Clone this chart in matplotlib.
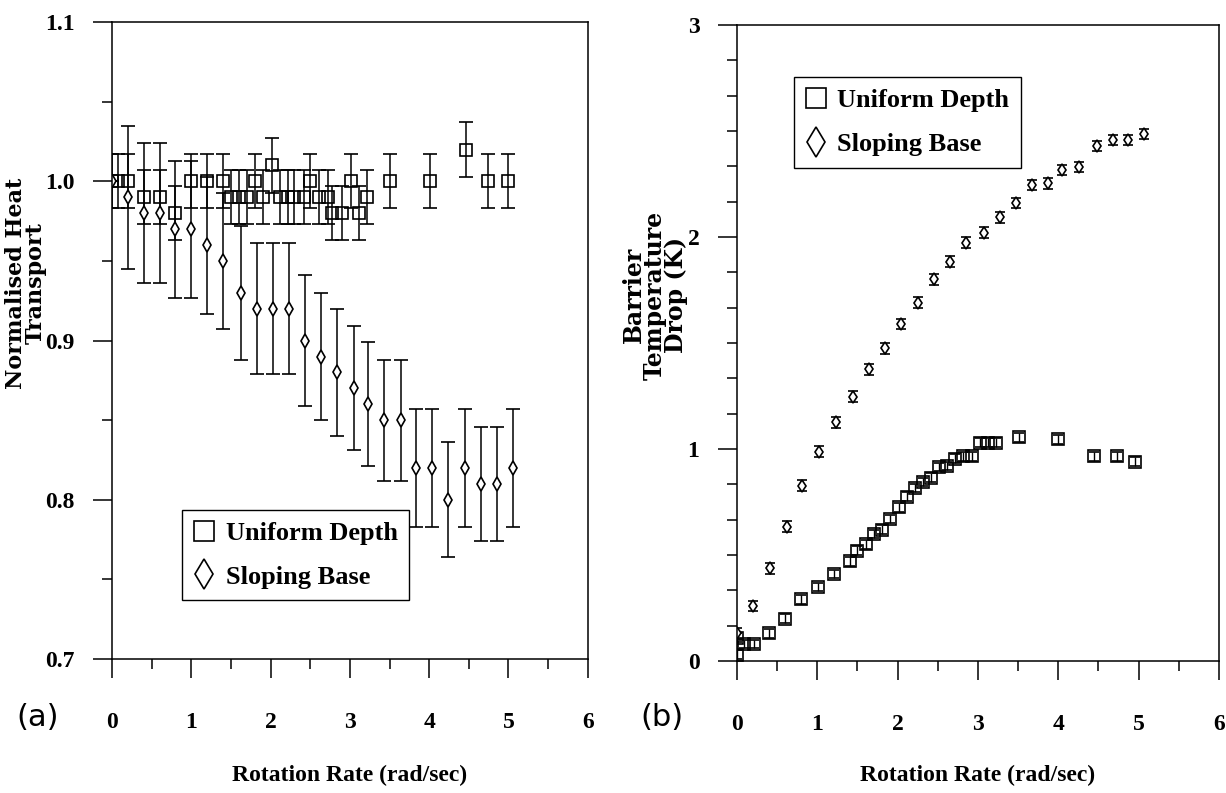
import matplotlib.pyplot as plt
from matplotlib.ticker import MultipleLocator, FormatStrFormatter
from matplotlib.lines import Line2D

# (a) normalised heat transport
ua_x = [0, 0.08, 0.2, 0.4, 0.6, 0.8, 1.0, 1.2, 1.4, 1.5, 1.6, 1.7, 1.8, 1.9,
        2.02, 2.12, 2.22, 2.3, 2.42, 2.5, 2.61, 2.72, 2.78, 2.9,
        3.01, 3.11, 3.21, 3.5, 4.01, 4.46, 4.74, 4.99]
ua_y = [1.00, 1.00, 1.00, 0.99, 0.99, 0.98, 1.00, 1.00, 1.00, 0.99, 0.99, 0.99, 1.00, 0.99,
        1.01, 0.99, 0.99, 0.99, 0.99, 1.00, 0.99, 0.99, 0.98, 0.98,
        1.00, 0.98, 0.99, 1.00, 1.00, 1.02, 1.00, 1.00]
ua_err = [0.017, 0.017, 0.017, 0.017, 0.017, 0.017, 0.017, 0.017, 0.017, 0.017, 0.017,
          0.017, 0.017, 0.017, 0.017, 0.017, 0.017, 0.017, 0.017, 0.017, 0.017, 0.017,
          0.017, 0.017, 0.017, 0.017, 0.017, 0.017, 0.017, 0.017, 0.017, 0.017]

sa_x = [0, 0.2, 0.4, 0.6, 0.8, 1.0, 1.2, 1.4, 1.63, 1.83, 2.03, 2.23, 2.43, 2.63, 2.84,
        3.05, 3.23, 3.43, 3.64, 3.84, 4.04, 4.24, 4.45, 4.65, 4.85, 5.06]
sa_y = [1.00, 0.99, 0.98, 0.98, 0.97, 0.97, 0.96, 0.95, 0.93, 0.92, 0.92, 0.92, 0.90, 0.89, 0.88,
        0.87, 0.86, 0.85, 0.85, 0.82, 0.82, 0.80, 0.82, 0.81, 0.81, 0.82]
sa_err = [0.0, 0.045, 0.044, 0.044, 0.043, 0.043, 0.043, 0.043, 0.042, 0.041, 0.041, 0.041, 0.041,
          0.040, 0.040, 0.039, 0.039, 0.038, 0.038, 0.037, 0.037, 0.036, 0.037, 0.036, 0.036, 0.037]

# (b) barrier temperature drop
ub_x = [0, 0, 0.085, 0.21, 0.405, 0.60, 0.80, 1.01, 1.21, 1.41, 1.50, 1.61, 1.71, 1.81, 1.91,
        2.015, 2.12, 2.22, 2.32, 2.42, 2.51, 2.62, 2.72, 2.82, 2.93,
        3.02, 3.12, 3.22, 3.51, 4.0, 4.44, 4.73, 4.96]
ub_y = [0.03, 0.11, 0.08, 0.08, 0.13, 0.20, 0.29, 0.35, 0.41, 0.47, 0.52, 0.55, 0.60, 0.62, 0.67,
        0.725, 0.775, 0.815, 0.845, 0.865, 0.915, 0.92, 0.955, 0.965, 0.965,
        1.03, 1.03, 1.03, 1.055, 1.045, 0.965, 0.965, 0.94]
ub_err = [0.02, 0.02, 0.02, 0.02, 0.02, 0.02, 0.02, 0.02, 0.02, 0.02, 0.02, 0.02, 0.02, 0.02,
          0.02, 0.02, 0.02, 0.02, 0.02, 0.02, 0.02, 0.02, 0.02, 0.02, 0.02, 0.02, 0.02, 0.02,
          0.02, 0.02, 0.02, 0.02, 0.02]

sb_x = [0, 0.20, 0.417, 0.617, 0.81, 1.027, 1.235, 1.44, 1.64, 1.84, 2.04, 2.25, 2.45, 2.65,
        2.85, 3.07, 3.27, 3.47, 3.67, 3.875, 4.05, 4.26, 4.48, 4.68, 4.87, 5.07]
sb_y = [0.13, 0.26, 0.437, 0.634, 0.827, 0.987, 1.126, 1.247, 1.376, 1.475, 1.59, 1.69, 1.80,
        1.884, 1.973, 2.02, 2.093, 2.16, 2.245, 2.253, 2.316, 2.33, 2.43, 2.457, 2.457, 2.486]
sb_err = [0.025, 0.025, 0.025, 0.025, 0.025, 0.025, 0.025, 0.025, 0.025, 0.025, 0.025, 0.025,
          0.025, 0.025, 0.025, 0.025, 0.025, 0.025, 0.025, 0.025, 0.025, 0.025, 0.025, 0.025,
          0.025, 0.025]

legend_labels = ["Uniform Depth", "Sloping Base"]

tick_font = ["Liberation Serif", "DejaVu Serif"]
label_font = ["DejaVu Serif"]

fig = plt.figure(figsize=(12.26, 7.93), dpi=100)
ax1 = fig.add_axes([0.0914, 0.169, 0.388, 0.803])
ax2 = fig.add_axes([0.6011, 0.1665, 0.3931, 0.802])

ax1.errorbar(ua_x, ua_y, yerr=ua_err, fmt="s", ms=8, mfc="none", mec="k", mew=1.2,
             ecolor="k", elinewidth=1.1, capsize=5, capthick=1.1)
ax1.errorbar(sa_x, sa_y, yerr=sa_err, fmt="d", ms=7, mfc="white", mec="k", mew=1.2,
             ecolor="k", elinewidth=1.1, capsize=5, capthick=1.1)
ax2.errorbar(ub_x, ub_y, yerr=ub_err, fmt="s", ms=8, mfc="none", mec="k", mew=1.2,
             ecolor="k", elinewidth=1.0, capsize=3.5, capthick=1.0)
ax2.errorbar(sb_x, sb_y, yerr=sb_err, fmt="d", ms=6, mfc="white", mec="k", mew=1.2,
             ecolor="k", elinewidth=1.0, capsize=3.5, capthick=1.0)

ax1.set_xlim(0, 6)
ax1.set_ylim(0.7, 1.1)
ax1.yaxis.set_major_locator(MultipleLocator(0.1))
ax1.yaxis.set_minor_locator(MultipleLocator(0.05))
ax1.yaxis.set_major_formatter(FormatStrFormatter("%.1f"))
ax2.set_xlim(0, 6)
ax2.set_ylim(0, 3)
ax2.yaxis.set_major_locator(MultipleLocator(1))
ax2.yaxis.set_minor_locator(MultipleLocator(1 / 6))

for ax in (ax1, ax2):
    ax.xaxis.set_major_locator(MultipleLocator(1))
    ax.xaxis.set_minor_locator(MultipleLocator(0.5))
    ax.tick_params(which="major", direction="out", length=14, width=1.1)
    ax.tick_params(which="minor", direction="out", length=7, width=1.1)
    ax.tick_params(axis="x", which="major", pad=24)
    ax.tick_params(axis="y", which="major", pad=13)
    for s in ax.spines.values():
        s.set_linewidth(1.1)
    for lab in ax.get_xticklabels() + ax.get_yticklabels():
        lab.set_family(tick_font)
        lab.set_fontweight("bold")
        lab.set_fontsize(17)
    ax.set_xlabel("Rotation Rate (rad/sec)", family=tick_font, fontweight="bold", fontsize=17)

ax1.xaxis.set_label_coords(0.5, -0.166)
ax2.xaxis.set_label_coords(0.5, -0.164)

ax1.set_ylabel("Normalised Heat\nTransport", family=label_font, fontweight="bold",
               fontsize=16, linespacing=0.85)
ax1.yaxis.set_label_coords(-0.138, 0.59)
ax2.set_ylabel("Barrier\nTemperature\nDrop (K)", family=label_font, fontweight="bold",
               fontsize=17, linespacing=0.85)
ax2.yaxis.set_label_coords(-0.102, 0.575)

handles = [Line2D([], [], marker="s", ls="none", mfc="none", mec="k", mew=1.2, ms=14),
           Line2D([], [], marker="d", ls="none", mfc="none", mec="k", mew=1.2, ms=15)]
leg_props = dict(family=tick_font, weight="bold", size=19)
ax1.legend(handles, legend_labels, loc="upper left", bbox_to_anchor=(0.147, 0.234),
           borderaxespad=0, fancybox=False, edgecolor="k", framealpha=1, prop=leg_props,
           handlelength=0.8, handletextpad=0.4, borderpad=0.45, labelspacing=0.75)
ax2.legend(handles, legend_labels, loc="upper left", bbox_to_anchor=(0.118, 0.918),
           borderaxespad=0, fancybox=False, edgecolor="k", framealpha=1, prop=leg_props,
           handlelength=0.8, handletextpad=0.4, borderpad=0.45, labelspacing=0.75)

fig.text(0.031, 0.0946, "(a)", fontsize=22, ha="center", va="center", family="DejaVu Sans")
fig.text(0.54, 0.0946, "(b)", fontsize=22, ha="center", va="center", family="DejaVu Sans")

fig.savefig("out.png", dpi=100)
